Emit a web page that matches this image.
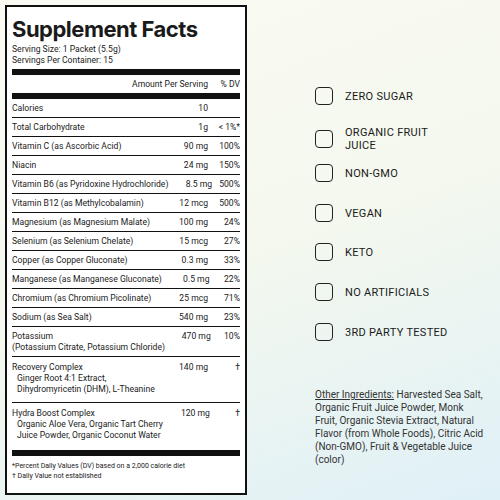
<!DOCTYPE html>
<html><head><meta charset="utf-8">
<script src="https://cdn.jsdelivr.net/npm/chart.js"></script>
<style>
body{margin:0;width:500px;height:500px;overflow:hidden;font-family:"Roboto","Liberation Sans",sans-serif;color:#1a1a1a;
background:linear-gradient(160deg,#fbfbf3 0%,#f4f8ee 50%,#dff0f7 100%);}
#label{position:absolute;left:5px;top:5px;width:238px;height:486px;border:2px solid #111;background:#fff;font-size:8.6px;}
#label h1{margin:0;padding:9px 5px 2px 5px;font-family:"Inter",sans-serif;font-size:22px;font-weight:700;letter-spacing:-0.5px}
.s{padding:0 5px;line-height:11px}
.r{display:flex;border-top:1px solid #111;margin:0 5px;padding:4px 0 3px;line-height:11px;white-space:nowrap}
.r .n{flex:1}.r .a{width:50px;text-align:right}.r .d{width:32px;text-align:right}
.thick{border-top:6px solid #111}
.sub{padding-left:5px}
#right{position:absolute;left:315px;top:80px;width:180px;font-size:11px;}
.it{position:absolute;left:0;display:flex;align-items:center;gap:12px;letter-spacing:0.3px;line-height:13px}
.ic{width:18px;height:18px;border:1.5px solid #222;border-radius:4px;box-sizing:border-box}
#other{position:absolute;left:315px;top:388px;width:172px;font-size:10px;line-height:13px;color:#333}
</style></head><body>
<div id="label"></div>
<div id="right"></div>
<div id="other"><u>Other Ingredients:</u> Harvested Sea Salt, Organic Fruit Juice Powder, Monk Fruit, Organic Stevia Extract, Natural Flavor (from Whole Foods), Citric Acid (Non-GMO), Fruit &amp; Vegetable Juice (color)</div>
<script>
const nutrients=["Calories","Total Carbohydrate","Vitamin C (as Ascorbic Acid)","Niacin","Vitamin B6 (as Pyridoxine Hydrochloride)","Vitamin B12 (as Methylcobalamin)","Magnesium (as Magnesium Malate)","Selenium (as Selenium Chelate)","Copper (as Copper Gluconate)","Manganese (as Manganese Gluconate)","Chromium (as Chromium Picolinate)","Sodium (as Sea Salt)","Potassium<br>(Potassium Citrate, Potassium Chloride)","Recovery Complex<div class='sub'>Ginger Root 4:1 Extract,<br>Dihydromyricetin (DHM), L-Theanine</div>","Hydra Boost Complex<div class='sub'>Organic Aloe Vera, Organic Tart Cherry<br>Juice Powder, Organic Coconut Water</div>"];
const amounts=["10","1g","90 mg","24 mg","8.5 mg","12 mcg","100 mg","15 mcg","0.3 mg","0.5 mg","25 mcg","540 mg","470 mg","140 mg","120 mg"];
const dv=["","< 1%*","100%","150%","500%","500%","24%","27%","33%","22%","71%","23%","10%","†","†"];
const claims=["ZERO SUGAR","ORGANIC FRUIT<br>JUICE","NON-GMO","VEGAN","KETO","NO ARTIFICIALS","3RD PARTY TESTED"];
const claimY=[7,46,84,124,163,203,243];
let h='<h1>Supplement Facts</h1><div class="s">Serving Size: 1 Packet (5.5g)</div><div class="s" style="padding-bottom:3px">Servings Per Container: 15</div>';
h+='<div class="r thick"><span class="n"></span><span>Amount Per Serving</span><span class="d">% DV</span></div>';
nutrients.forEach((n,i)=>{h+=`<div class="r${i==0?' thick':''}" style="${i>=13?'padding:5px 0 7px':''}"><span class="n">${n}</span><span class="a">${amounts[i]}</span><span class="d">${dv[i]}</span></div>`;});
h+='<div style="border-top:6px solid #111;margin:2px 5px 0;padding-top:5px;font-size:7px;line-height:10px">*Percent Daily Values (DV) based on a 2,000 calorie diet<br>† Daily Value not established</div>';
document.getElementById('label').innerHTML=h;
document.getElementById('right').innerHTML=claims.map((c,i)=>`<div class="it" style="top:${claimY[i]}px"><div class="ic"></div><span>${c}</span></div>`).join('');
</script>
</body></html>
